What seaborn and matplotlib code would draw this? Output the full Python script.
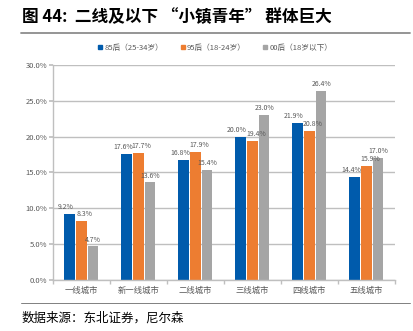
import matplotlib
matplotlib.use("Agg")
import matplotlib.pyplot as plt
import seaborn as sns
import pandas as pd
from matplotlib.ticker import PercentFormatter, FixedLocator
from matplotlib.lines import Line2D

categories = ["一线城市", "新一线城市", "二线城市", "三线城市", "四线城市", "五线城市"]
series_names = ["85后（25-34岁）", "95后（18-24岁）", "00后（18岁以下）"]
s85 = [9.2, 17.6, 16.8, 20.0, 21.9, 14.4]
s95 = [8.3, 17.7, 17.9, 19.4, 20.8, 15.9]
s00 = [4.7, 13.6, 15.4, 23.0, 26.4, 17.0]
colors = ["#005BAC", "#ED7D31", "#A5A5A5"]

rows = []
for name, vals in zip(series_names, [s85, s95, s00]):
    for c, v in zip(categories, vals):
        rows.append({"城市": c, "组": name, "值": v})
df = pd.DataFrame(rows)

sns.set_theme(style="white")
plt.rcParams["font.family"] = ["Noto Sans CJK SC", "DejaVu Sans"]

fig = plt.figure(figsize=(4.13, 3.31), dpi=100)
ax = fig.add_axes([0.128, 0.154, 0.828, 0.65])

sns.barplot(data=df, x="城市", y="值", hue="组", hue_order=series_names,
            palette=colors, width=0.62, gap=0.12, ax=ax, legend=False,
            saturation=1, edgecolor="none")

shifts = [-2.5, 2.5, 0]
for cont, dx in zip(ax.containers, shifts):
    anns = ax.bar_label(cont, labels=[f"{b.get_height():.1f}%" for b in cont],
                        padding=2, fontsize=5, color="#595959")
    for a in anns:
        a.xyann = (dx, a.xyann[1])

ax.set_ylim(0, 30)
ax.yaxis.set_major_locator(FixedLocator([0, 5, 10, 15, 20, 25, 30]))
ax.yaxis.set_major_formatter(PercentFormatter(decimals=1))
ax.set_xlim(-0.5, 5.5)
ax.grid(axis="y", color="#BFBFBF", linewidth=1.0)
ax.set_axisbelow(True)
for s in ["top", "right"]:
    ax.spines[s].set_visible(False)
for s in ["left", "bottom"]:
    ax.spines[s].set_color("#BFBFBF")
    ax.spines[s].set_linewidth(1.0)
ax.set_xlabel("")
ax.set_ylabel("")
ax.tick_params(axis="y", labelsize=5.5, labelcolor="#595959", length=3,
               color="#BFBFBF", left=True, pad=1)
ax.tick_params(axis="x", labelsize=6, labelcolor="#595959", length=0, pad=4)
ax.set_xticks(range(len(categories)), minor=False)
ax.set_xticks([i + 0.5 for i in range(-1, len(categories))], minor=True)
ax.tick_params(axis="x", which="minor", length=3, color="#BFBFBF", bottom=True)

handles = [Line2D([0], [0], marker="s", linestyle="none", markersize=3,
                  markerfacecolor=c, markeredgecolor=c) for c in colors]
fig.legend(handles, series_names, loc="center", bbox_to_anchor=(0.52, 0.855),
           ncol=3, frameon=False, fontsize=5.5, labelcolor="#595959",
           handletextpad=0.1, columnspacing=2.2, handlelength=0.8)

fig.text(22 / 413, 1 - 17 / 331, "图 44:  二线及以下 “小镇青年” 群体巨大",
         fontsize=12, fontweight="bold", va="center", ha="left", color="black")
fig.add_artist(Line2D([21 / 413, 410 / 413], [1 - 33 / 331, 1 - 33 / 331],
                      color="#8C8C8C", linewidth=1.3, transform=fig.transFigure))
fig.add_artist(Line2D([21 / 413, 410 / 413], [1 - 303 / 331, 1 - 303 / 331],
                      color="#808080", linewidth=0.7, transform=fig.transFigure))
fig.text(22 / 413, 1 - 318 / 331, "数据来源：东北证券，尼尔森",
         fontsize=9, va="center", ha="left", color="black")

fig.savefig("out.png", dpi=100)
